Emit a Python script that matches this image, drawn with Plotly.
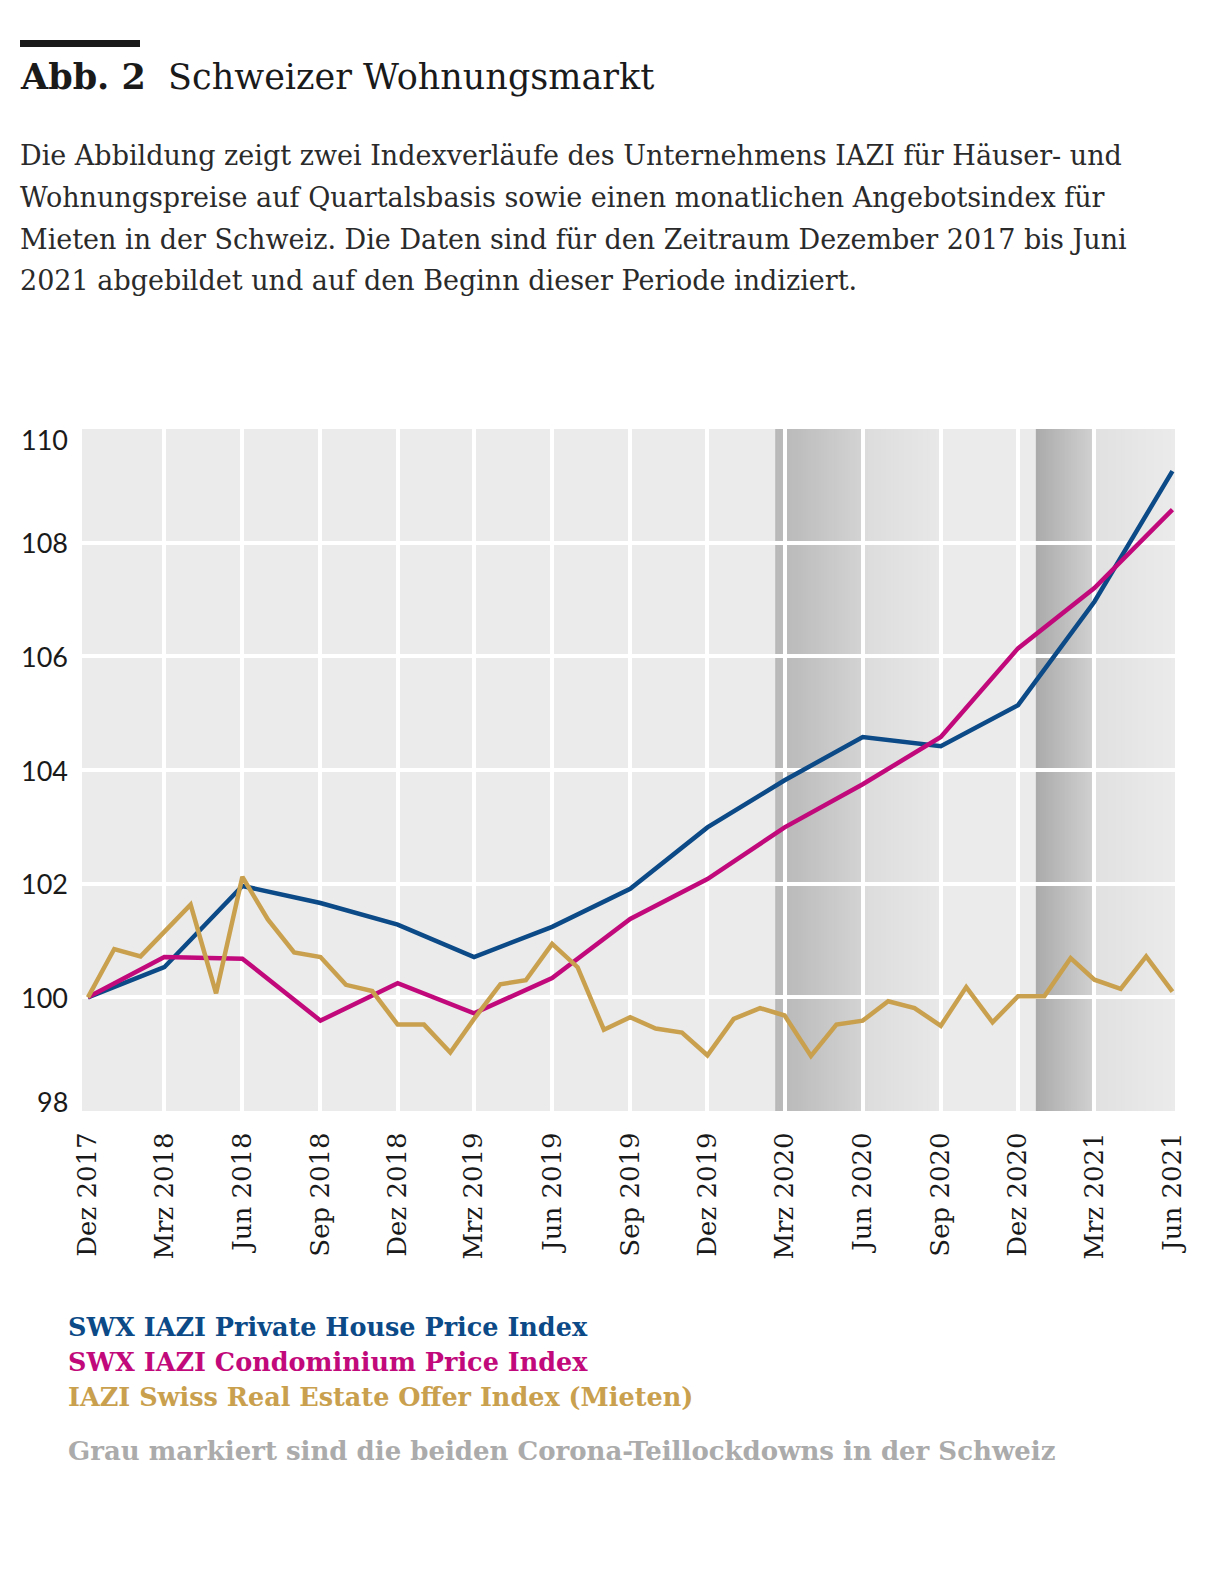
import plotly.graph_objects as go
import pandas as pd

# Monthly axis Dez 2017 .. Jun 2021, quarterly ticks
months = pd.date_range("2017-12-01", "2021-06-01", freq="MS")
quarters = months[::3]
quarter_labels = [
    "Dez 2017", "Mrz 2018", "Jun 2018", "Sep 2018", "Dez 2018",
    "Mrz 2019", "Jun 2019", "Sep 2019", "Dez 2019", "Mrz 2020",
    "Jun 2020", "Sep 2020", "Dez 2020", "Mrz 2021", "Jun 2021",
]

# quarterly indices (Dez 2017 = 100)
house_index = [100.0, 100.53, 101.96, 101.66, 101.28, 100.71, 101.24, 101.91,
               102.99, 103.82, 104.58, 104.42, 105.14, 106.96, 109.26]
condo_index = [100.0, 100.71, 100.68, 99.59, 100.25, 99.72, 100.34, 101.38,
               102.08, 102.99, 103.75, 104.58, 106.14, 107.20, 108.58]

# monthly offer index (rents)
offer_index = [100.0, 100.85, 100.72, 101.15, 101.63, 100.07, 102.12, 101.37,
               100.79, 100.71, 100.22, 100.11, 99.52, 99.52, 99.03, 99.62,
               100.23, 100.30, 100.94, 100.53, 99.43, 99.65, 99.45, 99.38,
               98.98, 99.62, 99.81, 99.68, 98.97, 99.52, 99.59, 99.93,
               99.81, 99.50, 100.18, 99.56, 100.02, 100.02, 100.69, 100.31,
               100.15, 100.72, 100.10]

y_ticks = [98, 100, 102, 104, 106, 108, 110]

# lockdown shading: (start, end, colour left, colour right)
lockdown_bands = [
    ("2020-02-19", "2020-03-01", "#B3B3B3", "#B3B3B3"),
    ("2020-03-01", "2020-06-01", "#BABABA", "#D3D3D3"),
    ("2020-06-01", "2020-09-01", "#DCDCDC", "#E8E8E8"),
    ("2020-12-22", "2021-03-01", "#ABABAB", "#D1D1D1"),
    ("2021-03-01", "2021-06-05", "#E1E1E1", "#EBEBEB"),
]

blue = "#0B4A87"
magenta = "#C2097B"
gold = "#C9A04E"
text_dark = "#1A1A1A"
bg = "#EBEBEB"

# page offset of the figure (body margin) and plot area in page pixels
OFF = 8
W, H = 1231 - 2 * OFF, 1577 - 2 * OFF
L, R, T, B = 82, 1175, 429, 1111


def px(x):
    return (x - L) / (R - L)


def py(y):
    return (B - y) / (B - T)


def mix(c1, c2, t):
    a = [int(c1[i:i + 2], 16) for i in (1, 3, 5)]
    b = [int(c2[i:i + 2], 16) for i in (1, 3, 5)]
    return "rgb(%d,%d,%d)" % tuple(round(a[k] + (b[k] - a[k]) * t) for k in range(3))


fig = go.Figure()

fig.add_trace(go.Scatter(x=quarters, y=house_index, mode="lines",
                         name="SWX IAZI Private House Price Index",
                         line=dict(color=blue, width=4.5), showlegend=False))
fig.add_trace(go.Scatter(x=quarters, y=condo_index, mode="lines",
                         name="SWX IAZI Condominium Price Index",
                         line=dict(color=magenta, width=4.5), showlegend=False))
fig.add_trace(go.Scatter(x=months, y=offer_index, mode="lines", xaxis="x2",
                         name="IAZI Swiss Real Estate Offer Index (Mieten)",
                         line=dict(color=gold, width=4.5), showlegend=False))

# gradient bands built from thin strips, below the white grid
shapes = []
steps = 30
for start, end, c0, c1 in lockdown_bands:
    t0, t1 = pd.Timestamp(start), pd.Timestamp(end)
    w = (t1 - t0) / steps
    for i in range(steps):
        x0 = t0 + w * i
        x1 = min(t0 + w * (i + 1.6), t1)
        shapes.append(dict(type="rect", xref="x", yref="y", layer="below",
                           x0=x0, x1=x1, y0=98, y1=110,
                           fillcolor=mix(c0, c1, i / (steps - 1)),
                           line=dict(width=0)))

# black bar above the title
shapes.append(dict(type="rect", xref="paper", yref="paper",
                   x0=px(20), x1=px(140), y0=py(47), y1=py(40),
                   fillcolor="#1A1A1A", line=dict(width=0)))

annotations = []

annotations.append(dict(
    xref="paper", yref="paper", x=px(18), y=py(76), xanchor="left", yanchor="middle",
    text="<b>Abb. 2</b>  Schweizer Wohnungsmarkt", showarrow=False,
    font=dict(family="DejaVu Serif", size=35, color=text_dark)))

intro_lines = [
    "Die Abbildung zeigt zwei Indexverläufe des Unternehmens IAZI für Häuser- und",
    "Wohnungspreise auf Quartalsbasis sowie einen monatlichen Angebotsindex für",
    "Mieten in der Schweiz. Die Daten sind für den Zeitraum Dezember 2017 bis Juni",
    "2021 abgebildet und auf den Beginn dieser Periode indiziert.",
]
for i, line in enumerate(intro_lines):
    annotations.append(dict(
        xref="paper", yref="paper", x=px(18), y=py(156 + 41.5 * i),
        xanchor="left", yanchor="middle", text=line, showarrow=False,
        font=dict(family="DejaVu Serif", size=27, color="#2A2A2A")))

# y tick labels (outer ones pulled inside the plot height)
for v in y_ticks:
    shift = -10 if v == max(y_ticks) else (10 if v == min(y_ticks) else 0)
    annotations.append(dict(
        xref="paper", yref="y", x=0, y=v, xanchor="right", yanchor="middle",
        xshift=-12, yshift=shift, text=str(v), showarrow=False,
        font=dict(family="Lato", size=27, color=text_dark)))

legend_items = [
    ("SWX IAZI Private House Price Index", blue),
    ("SWX IAZI Condominium Price Index", magenta),
    ("IAZI Swiss Real Estate Offer Index (Mieten)", gold),
]
for i, (label, col) in enumerate(legend_items):
    annotations.append(dict(
        xref="paper", yref="paper", x=px(66), y=py(1327 + 35 * i),
        xanchor="left", yanchor="middle", text="<b>" + label + "</b>",
        showarrow=False, font=dict(family="DejaVu Serif", size=25.5, color=col)))

annotations.append(dict(
    xref="paper", yref="paper", x=px(66), y=py(1451),
    xanchor="left", yanchor="middle",
    text="<b>Grau markiert sind die beiden Corona-Teillockdowns in der Schweiz</b>",
    showarrow=False, font=dict(family="DejaVu Serif", size=26, color="#ABABAB")))

fig.update_layout(
    width=W, height=H,
    margin=dict(l=L - OFF, r=W - (R - OFF), t=T - OFF, b=H - (B - OFF), pad=0),
    paper_bgcolor="white",
    plot_bgcolor=bg,
    shapes=shapes,
    annotations=annotations,
    xaxis=dict(
        range=["2017-11-24", "2021-06-04"],
        tickvals=quarters[1:-1], showticklabels=False, ticks="",
        showgrid=True, gridcolor="white", gridwidth=4,
        zeroline=False, showline=False, fixedrange=True,
    ),
    xaxis2=dict(
        overlaying="x", matches="x", side="bottom",
        tickvals=quarters, ticktext=quarter_labels, tickangle=-90,
        ticks="outside", ticklen=10, tickcolor="rgba(0,0,0,0)",
        tickfont=dict(family="DejaVu Serif", size=26, color=text_dark),
        showgrid=False, zeroline=False, showline=False, fixedrange=True,
    ),
    yaxis=dict(
        range=[98, 110], tickvals=y_ticks[1:-1], showticklabels=False,
        showgrid=True, gridcolor="white", gridwidth=4,
        zeroline=False, showline=False, fixedrange=True,
    ),
)

fig.write_html("out.html")
